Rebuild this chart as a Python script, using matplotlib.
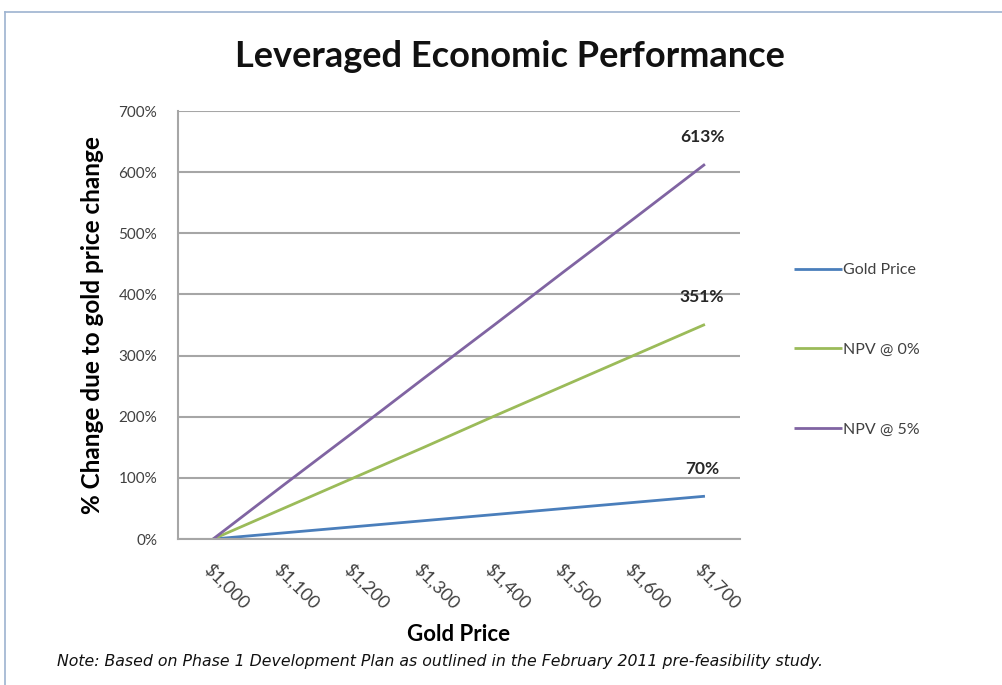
import matplotlib.pyplot as plt
import matplotlib.transforms as mtransforms
from matplotlib.lines import Line2D

# chart data
prices = ["$1,000", "$1,100", "$1,200", "$1,300", "$1,400", "$1,500", "$1,600", "$1,700"]
gold_price = [0, 10, 20, 30, 40, 50, 60, 70]
npv_0 = [0, 50, 100, 150, 201, 251, 301, 351]
npv_5 = [0, 88, 175, 263, 350, 438, 525, 613]
y_ticks = [0, 100, 200, 300, 400, 500, 600, 700]

plt.rcParams['font.family'] = ['Lato', 'DejaVu Sans']

fig = plt.figure(figsize=(10.02, 6.85), dpi=100)
ax = fig.add_axes([0.1776, 0.2131, 0.561, 0.6248])

x = range(len(prices))
ax.plot(x, gold_price, color="#4A7EBB", lw=2.0, label="Gold Price", solid_capstyle="butt")
ax.plot(x, npv_0, color="#9BBB59", lw=2.0, label="NPV @ 0%", solid_capstyle="butt")
ax.plot(x, npv_5, color="#8064A2", lw=2.0, label="NPV @ 5%", solid_capstyle="butt")

# end-of-line value labels
for series in (gold_price, npv_0, npv_5):
    ax.annotate(f"{series[-1]}%", (len(series) - 1, series[-1]), xytext=(-2, 14),
                textcoords="offset points", ha="center", va="bottom",
                fontsize=12.5, fontweight="bold", color="#262626")

ax.set_xlim(-0.5, len(prices) - 0.5)
ax.set_ylim(0, 700)
ax.set_yticks(y_ticks)
ax.set_yticklabels([f"{v}%" for v in y_ticks], fontsize=11, color="#404040")
ax.set_xticks(list(x))
ax.set_xticklabels(prices, rotation=-45, ha="left", va="center", rotation_mode="anchor",
                   fontsize=13, color="#404040")
ax.tick_params(axis="both", length=0)
ax.tick_params(axis="y", pad=15)
ax.tick_params(axis="x", pad=20)
# nudge the slanted labels a bit to the left, as in the original
shift = mtransforms.ScaledTranslation(-7 / 100, 0, fig.dpi_scale_trans)
for lbl in ax.get_xticklabels():
    lbl.set_transform(lbl.get_transform() + shift)

ax.grid(axis="y", color="#A6A6A6", lw=1.5)
ax.set_axisbelow(True)
for side in ("top", "right"):
    ax.spines[side].set_visible(False)
ax.spines["left"].set_color("#A6A6A6")
ax.spines["left"].set_linewidth(1.5)
ax.spines["bottom"].set_color("#A6A6A6")
ax.spines["bottom"].set_linewidth(1.5)

ax.set_ylabel("% Change due to gold price change", fontsize=17.5, fontweight="bold", labelpad=10)
ax.set_xlabel("Gold Price", fontsize=16, fontweight="bold", labelpad=8)

fig.text(0.509, 0.918, "Leveraged Economic Performance", ha="center", va="center",
         fontsize=26, fontweight="bold", color="#111111")
fig.text(0.057, 0.035, "Note: Based on Phase 1 Development Plan as outlined in the February 2011 pre-feasibility study.",
         ha="left", va="center", fontsize=11.3, style="italic", color="#111111",
         family=["DejaVu Sans"])

leg = ax.legend(loc="upper left", bbox_to_anchor=(1.07, 0.678), frameon=False, fontsize=11.5,
                labelspacing=4.1, handlelength=3.0, handletextpad=0.1, labelcolor="#404040")

# faint outer frame like the original chart box
fig.add_artist(Line2D([0.005, 0.005], [0.0, 0.982], color="#9DB3D0", lw=1.2))
fig.add_artist(Line2D([0.005, 1.0], [0.982, 0.982], color="#9DB3D0", lw=1.2))

fig.savefig("out.png", dpi=100)
